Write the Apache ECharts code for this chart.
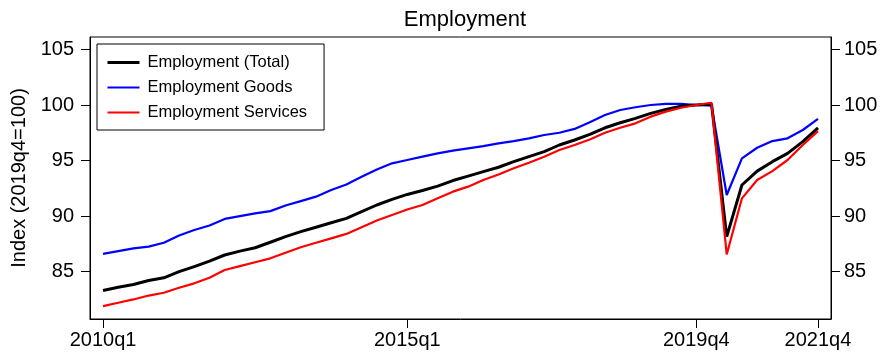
<!DOCTYPE html>
<html>
<head>
<meta charset="utf-8">
<script src="https://cdn.jsdelivr.net/npm/echarts@6/dist/echarts.min.js"></script>
<style>
  html, body { margin: 0; padding: 0; background: #fff; }
  #chart { width: 882px; height: 352px; }
</style>
</head>
<body>
<div id="chart"></div>
<script>
// Quarterly employment indices, 2010q1 .. 2021q4 (2019q4 = 100)
const startYear = 2010;
const quarters = [];
for (let y = startYear; y <= 2021; y++) {
  for (let q = 1; q <= 4; q++) quarters.push(y + 'q' + q);
}

const totalEmp = [
  83.3, 83.6, 83.85, 84.2, 84.45, 85.0, 85.45, 85.95, 86.5, 86.85,
  87.15, 87.65, 88.15, 88.6, 89.0, 89.4, 89.8, 90.4, 91.0, 91.5,
  91.95, 92.3, 92.7, 93.2, 93.6, 94.0, 94.4, 94.9, 95.35, 95.8,
  96.4, 96.85, 97.35, 97.95, 98.4, 98.8, 99.25, 99.6, 99.9, 100.0,
  100.1, 88.15, 92.8, 94.05, 94.9, 95.65, 96.7, 97.95
];
const goodsEmp = [
  86.6, 86.85, 87.1, 87.25, 87.6, 88.25, 88.75, 89.15, 89.75, 90.0,
  90.25, 90.45, 90.95, 91.35, 91.75, 92.35, 92.85, 93.55, 94.2, 94.75,
  95.05, 95.35, 95.65, 95.9, 96.1, 96.3, 96.55, 96.75, 97.0, 97.3,
  97.5, 97.85, 98.45, 99.1, 99.55, 99.8, 100.0, 100.1, 100.1, 100.0,
  99.95, 91.9, 95.2, 96.15, 96.75, 97.0, 97.75, 98.75
];
const servicesEmp = [
  81.9, 82.2, 82.5, 82.85, 83.1, 83.55, 83.95, 84.45, 85.15, 85.5,
  85.85, 86.2, 86.7, 87.2, 87.6, 88.0, 88.4, 89.0, 89.6, 90.1,
  90.6, 91.0, 91.6, 92.2, 92.65, 93.25, 93.75, 94.3, 94.8, 95.35,
  95.95, 96.4, 96.9, 97.5, 97.95, 98.35, 98.95, 99.4, 99.75, 100.0,
  100.2, 86.55, 91.6, 93.25, 94.05, 95.05, 96.4, 97.65
];

const xTickLabels = ['2010q1', '2015q1', '2019q4', '2021q4'];
const yTicks = [85, 90, 95, 100, 105];

const xTickIdx = xTickLabels.map(l => quarters.indexOf(l));
const toPairs = arr => arr.map((v, i) => [i, v]);

const FONT = 'Arial, "Liberation Sans", sans-serif';
const axisLineStyle = { color: '#000', width: 1 };

function yAxis(position, margin) {
  return {
    type: 'value',
    position: position,
    min: 80.74,
    max: 106.12,
    axisLine: { show: true, onZero: false, lineStyle: axisLineStyle },
    axisTick: { show: true, length: 9, lineStyle: axisLineStyle, customValues: yTicks },
    axisLabel: {
      show: true, margin: margin, fontSize: 20, color: '#000', fontFamily: FONT,
      customValues: yTicks
    },
    splitLine: { show: false }
  };
}

const left = yAxis('left', 16);
left.name = 'Index (2019q4=100)';
left.nameLocation = 'middle';
left.nameRotate = 90;
left.nameGap = 60;
left.nameTextStyle = { fontSize: 20, color: '#000', fontFamily: FONT };

const right = yAxis('right', 13);

const chart = echarts.init(document.getElementById('chart'), null, { renderer: 'canvas' });
chart.setOption({
  animation: false,
  backgroundColor: '#fff',
  title: {
    text: 'Employment',
    left: 460,
    top: 4,
    textAlign: 'center',
    textStyle: { fontSize: 22, fontWeight: 'normal', color: '#000', fontFamily: FONT }
  },
  grid: {
    left: 90, right: 51, top: 37, bottom: 33,
    show: true, borderColor: '#000', borderWidth: 1, backgroundColor: 'transparent'
  },
  legend: {
    orient: 'vertical',
    left: 97,
    top: 44,
    padding: [10, 17, 9, 9],
    itemWidth: 32,
    itemHeight: 14,
    itemGap: 8,
    borderColor: '#000',
    borderWidth: 1,
    backgroundColor: '#fff',
    itemStyle: { opacity: 0 },
    textStyle: { fontSize: 16.5, color: '#000', fontFamily: FONT, padding: [0, 0, 0, 3] },
    data: [
      { name: 'Employment (Total)', lineStyle: { width: 3, color: '#000' } },
      { name: 'Employment Goods', lineStyle: { width: 2.2, color: '#0000ff' } },
      { name: 'Employment Services', lineStyle: { width: 2.2, color: '#ff0000' } }
    ]
  },
  xAxis: {
    type: 'value',
    min: -0.855,
    max: 47.855,
    axisLine: { show: true, onZero: false, lineStyle: axisLineStyle },
    axisTick: { show: true, length: 9, lineStyle: axisLineStyle, customValues: xTickIdx },
    axisLabel: {
      show: true, margin: 11, fontSize: 20, color: '#000', fontFamily: FONT,
      customValues: xTickIdx,
      formatter: v => quarters[Math.round(v)]
    },
    splitLine: { show: false }
  },
  yAxis: [left, right],
  series: [
    {
      name: 'Employment (Total)', type: 'line', yAxisIndex: 0,
      data: toPairs(totalEmp), showSymbol: false, symbol: 'none',
      lineStyle: { color: '#000', width: 3 }, itemStyle: { color: '#000' }, z: 3
    },
    {
      name: 'Employment Goods', type: 'line', yAxisIndex: 0,
      data: toPairs(goodsEmp), showSymbol: false, symbol: 'none',
      lineStyle: { color: '#0000ff', width: 2.2 }, itemStyle: { color: '#0000ff' }, z: 2
    },
    {
      name: 'Employment Services', type: 'line', yAxisIndex: 0,
      data: toPairs(servicesEmp), showSymbol: false, symbol: 'none',
      lineStyle: { color: '#ff0000', width: 2.2 }, itemStyle: { color: '#ff0000' }, z: 4
    }
  ]
});
</script>
</body>
</html>
